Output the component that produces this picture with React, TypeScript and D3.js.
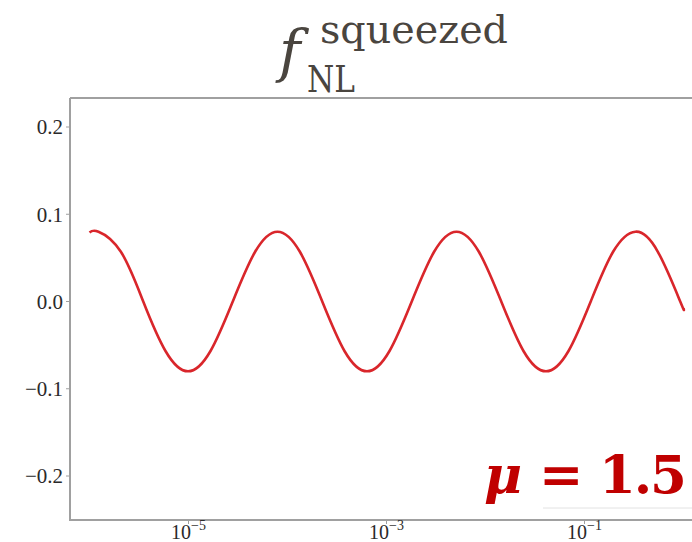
import React from "react";
import * as d3 from "d3";

// Sampled f_NL^squeezed curve versus x (log-spaced samples)
const xValues = [
  1.0e-6, 1.233e-6, 2.075e-6, 3.49e-6, 5.875e-6, 9.886e-6, 1.663e-5, 2.8e-5,
  4.71e-5, 7.925e-5, 1.334e-4, 2.244e-4, 3.776e-4, 6.353e-4, 1.069e-3,
  1.799e-3, 3.027e-3, 5.093e-3, 8.57e-3, 1.442e-2, 2.427e-2, 4.083e-2,
  6.871e-2, 0.1156, 0.1945, 0.3273, 0.5508, 0.9268, 1.0,
];
const fValues = [
  0.079, 0.08, 0.057, 0.0, -0.057, -0.08, -0.057, 0.0, 0.057, 0.08, 0.057,
  0.0, -0.057, -0.08, -0.057, 0.0, 0.057, 0.08, 0.057, 0.0, -0.057, -0.08,
  -0.057, 0.0, 0.057, 0.08, 0.057, 0.0, -0.008,
];

const yTicks = [0.2, 0.1, 0.0, -0.1, -0.2];
const xTickExponents = [-5, -3, -1];

const W = 692;
const H = 542;
const frame = { left: 70, top: 98, bottom: 520, right: 720 };

export default function App() {
  const x = d3.scaleLog().domain([1e-5, 1e-1]).range([188.5, 584.5]);
  const y = d3.scaleLinear().domain([-0.2, 0.2]).range([476, 127]);

  const pts = xValues.map((v, i) => [v, fValues[i]] as [number, number]);
  const line = d3
    .line<[number, number]>()
    .x((d) => x(d[0]))
    .y((d) => y(d[1]))
    .curve(d3.curveNatural);

  const fmt = (v: number) => {
    const s = v.toFixed(1);
    return v < 0 ? "\u2212" + s.slice(1) : s;
  };

  const axisColor = "#a0a0a0";
  const labelFont = "'Liberation Serif', 'Times New Roman', serif";

  return (
    <svg
      width={W}
      height={H}
      style={{ position: "absolute", left: 0, top: 0, background: "#fff" }}
    >
      <rect x={0} y={0} width={W} height={H} fill="#fff" />

      {/* title */}
      <g fill="#4a453f" fontFamily="'DejaVu Serif', serif">
        <text x={279} y={71} fontSize={58} fontStyle="italic">
          f
        </text>
        <text x={320} y={43} fontSize={39} textLength={188} lengthAdjust="spacingAndGlyphs">
          squeezed
        </text>
        <text x={307} y={92} fontSize={37} textLength={48} lengthAdjust="spacingAndGlyphs">
          NL
        </text>
      </g>

      {/* curve */}
      <path d={line(pts) || ""} fill="none" stroke="#d9262b" strokeWidth={2.6} />

      {/* frame */}
      <g stroke={axisColor} strokeWidth={2} fill="none">
        <line x1={frame.left} y1={frame.top} x2={frame.left} y2={frame.bottom + 1} />
        <line x1={frame.left} y1={frame.top} x2={frame.right} y2={frame.top} />
        <line x1={frame.left - 1} y1={frame.bottom} x2={frame.right} y2={frame.bottom} />
      </g>

      {/* y axis */}
      {yTicks.map((t) => (
        <g key={t}>
          <line x1={66} x2={frame.left} y1={y(t)} y2={y(t)} stroke={axisColor} strokeWidth={1} />
          <text
            x={63}
            y={y(t)}
            dy="0.35em"
            textAnchor="end"
            fontFamily={labelFont}
            fontSize={21}
            fill="#2a2a2a"
          >
            {fmt(t)}
          </text>
        </g>
      ))}

      {/* x axis */}
      {xTickExponents.map((e) => {
        const px = x(Math.pow(10, e));
        return (
          <g key={e}>
            <line x1={px} x2={px} y1={frame.bottom} y2={frame.bottom + 4} stroke={axisColor} strokeWidth={1} />
            <text
              x={px}
              y={539}
              textAnchor="middle"
              fontFamily={labelFont}
              fontSize={20}
              fill="#2a2a2a"
            >
              10
              <tspan fontSize={14} dy={-9}>
                {"\u2212" + Math.abs(e)}
              </tspan>
            </text>
          </g>
        );
      })}

      {/* parameter label */}
      <line x1={543} x2={W} y1={508} y2={508} stroke="#e2e2e2" strokeWidth={1} />
      <g fill="#c00000" fontFamily="'DejaVu Serif', serif" fontWeight="bold" fontSize={53}>
        <text x={484} y={493} fontStyle="italic" fontSize={52}>
          μ
        </text>
        <text x={539} y={493}>=</text>
        <text x={599} y={493} textLength={88} lengthAdjust="spacing">
          1.5
        </text>
      </g>
    </svg>
  );
}
